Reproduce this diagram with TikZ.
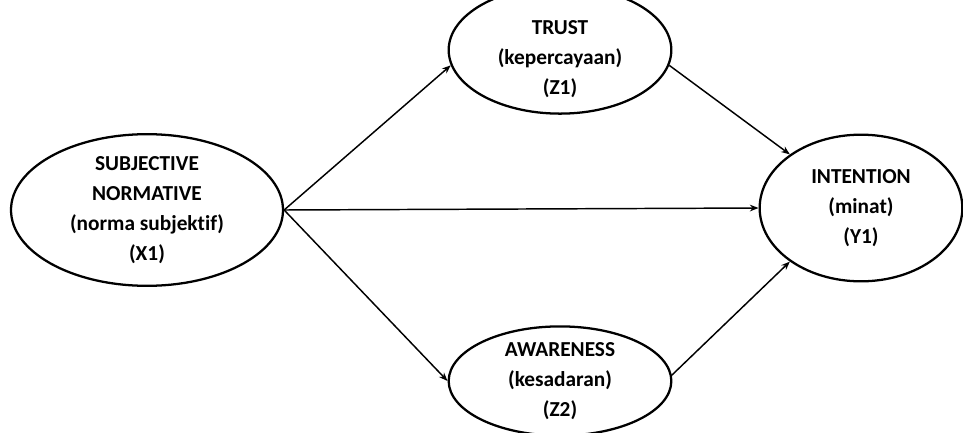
\documentclass[tikz,border=0pt]{standalone}
\usepackage{fontspec}
\setmainfont[Ligatures=NoCommon]{Carlito}
\usetikzlibrary{shapes.geometric,arrows.meta}

\tikzset{
	var/.style={ellipse, draw, line width=1.7pt, inner sep=0pt, align=center,
		font=\bfseries\fontsize{16}{22.5}\selectfont},
	path/.style={-{Stealth[length=6.5pt,width=5pt]}, line width=1.1pt}
}

\begin{document}
\begin{tikzpicture}[x=0.75pt, y=-0.75pt]
				\useasboundingbox (0, 0) rectangle (963, 432);
				
				\node[var, minimum width=204pt, minimum height=109pt] (X1) at (147, 210)
					{SUBJECTIVE\\NORMATIVE\\(norma subjektif)\\(X1)};
				\node[var, minimum width=167pt, minimum height=71pt] (Z1) at (560, 50)
					{\raisebox{-6pt}[\height][\depth]{\begin{tabular}{@{}c@{}}TRUST\\(kepercayaan)\\(Z1)\end{tabular}}};
				\node[var, minimum width=167pt, minimum height=71pt] (Z2) at (560, 381)
					{AWARENESS\\(kesadaran)\\(Z2)};
				\node[var, minimum width=152pt, minimum height=110pt] (Y1) at (861, 208)
					{INTENTION\\(minat)\\(Y1)};
				
				\draw[path] (X1.east) -- (Z1.188);
				\draw[path] (X1.east) -- (Y1.west);
				\draw[path] (X1.east) -- (Z2.west);
				\draw[path] (Z1.-8) -- (Y1.143);
				\draw[path] (Z2.3) -- (Y1.-143);
			\end{tikzpicture}
\end{document}
